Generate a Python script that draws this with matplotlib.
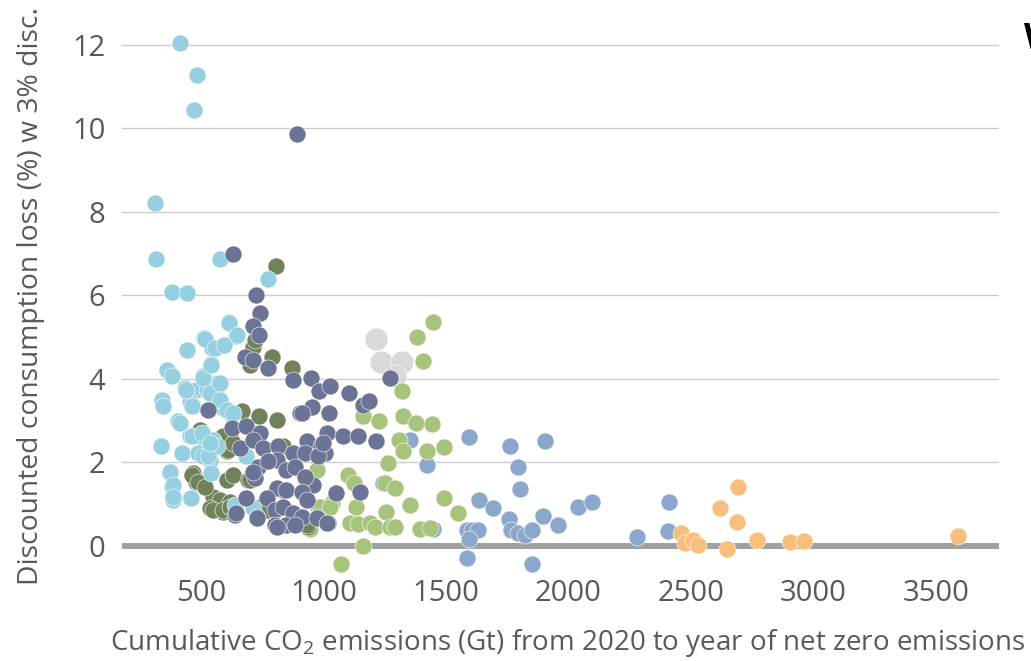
import matplotlib
matplotlib.use("Agg")
import matplotlib.pyplot as plt

plt.rcParams['font.family'] = ['Open Sans', 'DejaVu Sans']
plt.rcParams['mathtext.fontset'] = 'custom'
plt.rcParams['mathtext.rm'] = 'Open Sans'

# --- data: cumulative CO2 (Gt) vs discounted consumption loss (%) ---
light_blue_x = [414, 483, 473, 311, 318, 381, 445, 576, 774, 613,
                645, 512, 591, 547, 444, 543, 360, 383, 507, 564,
                435, 482, 523, 343, 346, 455, 468, 557, 591, 407,
                625, 339, 373, 384, 387, 455, 421, 455, 496, 550,
                564, 489, 537, 543, 509, 414, 441, 462, 537, 577,
                577, 605, 509, 543, 516, 557, 594, 613, 648, 686,
                639, 713, 373, 387, 387, 458, 462, 503, 530, 537, 632]
light_blue_y = [12.05, 11.27, 10.43, 8.22, 6.88, 6.07, 6.05, 6.87, 6.40, 5.35,
                5.03, 4.97, 4.80, 4.74, 4.69, 4.35, 4.22, 4.06, 4.06, 3.90,
                3.78, 3.74, 3.74, 3.50, 3.34, 3.46, 3.34, 3.58, 3.30, 2.98,
                3.14, 2.38, 1.74, 1.42, 1.10, 1.14, 2.22, 2.62, 2.62, 2.54,
                2.38, 2.22, 2.06, 1.74, 2.14, 2.94, 3.74, 3.34, 3.66, 3.90,
                3.50, 3.26, 4.02, 4.34, 4.95, 4.74, 4.81, 5.33, 5.05, 2.14,
                0.98, 0.90, 1.78, 1.46, 1.18, 1.14, 2.62, 2.70, 2.14, 2.46, 3.18]

dark_x = [892, 629, 724, 743, 711, 738, 680, 713, 774, 877, 948,
          982, 1026, 904, 955, 1023, 530, 1105, 1162, 1186, 1271,
          1013, 1078, 1142, 1214, 931, 992, 1006, 1053, 1148, 958,
          1019, 972, 625, 686, 740, 659, 713, 754, 815, 809,
          877, 924, 978, 999, 734, 774, 849, 883, 720, 924,
          809, 849, 911, 931, 768, 686, 639, 727, 802, 836,
          877, 911, 802, 849, 972, 1013, 883, 645, 727, 809, 713, 911]
dark_y = [9.87, 6.99, 6.00, 5.57, 5.27, 5.05, 4.53, 4.46, 4.26, 3.96, 4.02,
          3.70, 3.83, 3.19, 3.32, 3.19, 3.26, 3.66, 3.38, 3.46, 4.02,
          2.70, 2.63, 2.62, 2.52, 2.50, 2.38, 2.22, 1.26, 1.30, 1.46,
          0.54, 0.70, 2.82, 2.86, 2.70, 2.34, 2.54, 2.34, 2.38, 2.06,
          2.22, 2.22, 2.14, 2.46, 1.90, 2.02, 1.82, 1.90, 1.62, 1.66,
          1.38, 1.34, 1.30, 1.10, 1.14, 1.14, 0.74, 0.70, 0.86, 0.94,
          0.78, 0.70, 0.50, 0.50, 0.66, 0.54, 0.50, 0.78, 0.66, 0.46, 1.78, 3.18]

olive_x = [806, 713, 720, 700, 792, 870, 666, 738, 809, 618, 585, 605,
           496, 468, 482, 509, 605, 632, 693, 550, 577, 618, 537, 591,
           632, 836, 836, 754, 938, 591, 611, 632, 462, 489, 516, 700,
           550, 591, 618, 740, 768, 931]
olive_y = [6.69, 4.77, 4.93, 4.34, 4.52, 4.26, 3.22, 3.10, 3.02, 2.62, 2.38, 2.26,
           2.78, 1.74, 1.54, 1.46, 1.58, 1.70, 1.58, 1.18, 1.10, 1.06, 0.90, 0.82,
           0.94, 2.38, 1.34, 0.90, 0.46, 2.62, 2.30, 2.46, 1.70, 1.54, 1.42, 1.58,
           0.86, 0.86, 0.94, 0.94, 0.86, 0.50]

light_green_x = [1448, 1383, 1405, 1321, 1160, 1225, 1325, 1377, 1444, 1309, 1323,
                 1421, 1491, 1264, 1101, 1124, 1251, 1291, 1492, 1353, 1550, 1132,
                 1255, 978, 1019, 1033, 1108, 1142, 1189, 1210, 1271, 1291, 1396,
                 1434, 945, 1160, 1071, 972, 986, 1026]
light_green_y = [5.37, 5.00, 4.42, 3.72, 3.10, 2.98, 3.10, 2.95, 2.92, 2.54, 2.26,
                 2.26, 2.36, 1.98, 1.70, 1.50, 1.50, 1.38, 1.14, 0.98, 0.78, 0.93,
                 0.82, 0.94, 0.94, 1.02, 0.54, 0.53, 0.54, 0.46, 0.46, 0.46, 0.40,
                 0.42, 0.40, 0.00, -0.43, 1.82, 0.94, 0.94]

mid_blue_x = [1595, 1761, 1904, 1795, 1802, 1423, 1353, 1635, 1692, 1757, 1897,
              1958, 2039, 2098, 2411, 2405, 2281, 1584, 1605, 1632, 1595, 1584,
              1767, 1795, 1822, 1850, 1850, 1448, 1244]
mid_blue_y = [2.60, 2.40, 2.50, 1.88, 1.37, 1.94, 2.54, 1.10, 0.90, 0.64, 0.72,
              0.50, 0.93, 1.06, 1.06, 0.36, 0.21, 0.38, 0.38, 0.37, 0.16, -0.30,
              0.38, 0.30, 0.26, 0.37, -0.44, 0.40, 1.50]

orange_x = [2693, 2618, 2689, 2461, 2475, 2509, 2529, 2649, 2771, 2903, 2960, 3590]
orange_y = [1.42, 0.90, 0.58, 0.30, 0.06, 0.14, 0.02, -0.08, 0.14, 0.10, 0.12, 0.24]

gray_x = [1214, 1234, 1319, 1291]
gray_y = [4.95, 4.40, 4.40, 4.06]

x_ticks = [500, 1000, 1500, 2000, 2500, 3000, 3500]
y_ticks = [0, 2, 4, 6, 8, 10, 12]

fig = plt.figure(figsize=(10.31, 6.61), dpi=100)
ax = fig.add_axes([122 / 1031, 1 - 578 / 661, 877 / 1031, 575 / 661])

for y in y_ticks[1:]:
    ax.axhline(y, color='#cccccc', lw=1.0, zorder=0)
ax.axhline(0, color='#a0a0a0', lw=4.3, zorder=1)

size = 150
edge = dict(edgecolors='white', linewidths=0.4)
ax.scatter(gray_x, gray_y, s=270, color='#d9d9d9', zorder=2, **edge)
ax.scatter(mid_blue_x, mid_blue_y, s=size, color='#8ca7cc', zorder=3, **edge)
ax.scatter(orange_x, orange_y, s=size, color='#f7be7e', zorder=3, **edge)
ax.scatter(light_green_x, light_green_y, s=size, color='#a8c47c', zorder=4, **edge)
ax.scatter(olive_x, olive_y, s=size, color='#71825a', zorder=5, **edge)
ax.scatter(light_blue_x, light_blue_y, s=size, color='#96cfdf', zorder=6, **edge)
ax.scatter(dark_x, dark_y, s=size, color='#6b7494', zorder=7, **edge)

ax.set_xlim(178, 3757)
ax.set_ylim(-0.77, 13.0)
ax.set_xticks(x_ticks)
ax.set_yticks(y_ticks)
for s in ax.spines.values():
    s.set_visible(False)
ax.tick_params(length=0, labelsize=21, labelcolor='#595959')
ax.tick_params(axis='y', pad=12)
ax.tick_params(axis='x', pad=1)

ax.set_xlabel('Cumulative CO$_2$ emissions (Gt) from 2020 to year of net zero emissions',
              fontsize=20, color='#595959')
ax.set_ylabel('Discounted consumption loss (%) w 3% disc.', fontsize=20.3, color='#595959')
ax.xaxis.set_label_coords(0.508, -0.086)
ax.yaxis.set_label_coords(-0.088, 0.49)

# cut-off title text at the right edge of the original
fig.text(1024 / 1031, 1 - 40 / 661, 'W', fontsize=26, fontweight='bold', color='black',
         va='center', ha='left')

fig.savefig('out.png', dpi=100)
